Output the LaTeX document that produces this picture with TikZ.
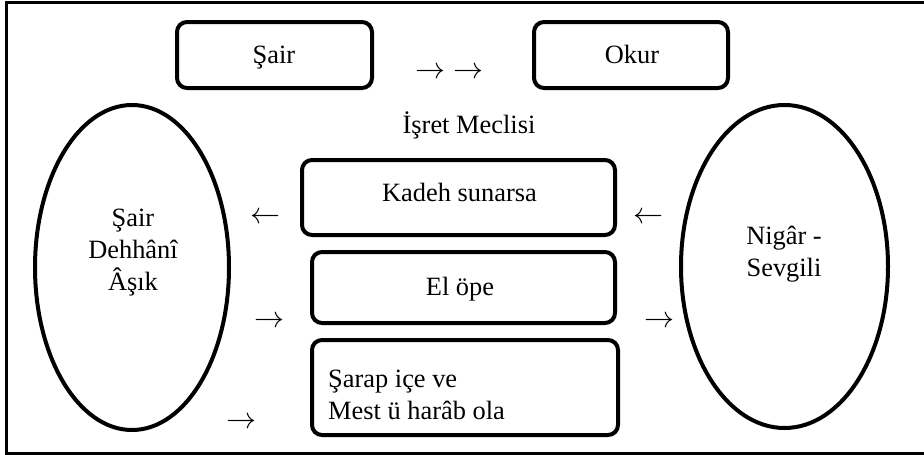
\RequirePackage{fix-cm}
\documentclass[tikz,border=0pt]{standalone}
\usepackage{fontspec}
\setmainfont{Liberation Serif}
\usetikzlibrary{shapes.geometric}

\begin{document}
\begin{tikzpicture}[x=1pt,y=-1pt,
        every node/.style={font=\fontsize{26.4}{32}\selectfont},
        kutu/.style={draw,rectangle,rounded corners=10pt,line width=4pt,inner sep=0pt},
        elips/.style={draw,ellipse,line width=4pt,inner sep=0pt},
        yazi/.style={inner sep=0pt,align=center},
        okyazi/.style={inner sep=0pt,font=\fontsize{30}{32}\selectfont}]
        \useasboundingbox (0,0) rectangle (924,455);
        \draw [line width=2.2pt] (6.5,2.5) rectangle (930,453.5);

        \begin{scope}
        \node [kutu,minimum width=195,minimum height=66] (sair) at (274.5,55) {};
        \node [yazi,anchor=base] (sairyazi) at (274,63) {Şair};
        \node [kutu,minimum width=194,minimum height=66] (okur) at (631,55) {};
        \node [yazi,anchor=base] (okuryazi) at (632,63) {Okur};
        \node [okyazi] (okust) at (449.5,73) {$\rightarrow$ $\rightarrow$};
        \node [yazi] (meclis) at (469,125) {İşret Meclisi};
        \end{scope}

        \node [elips,minimum width=194,minimum height=325] (asik) at (132,267.5) {};
        \node [yazi] (asikyazi) at (133,253) {Şair\\Dehhânî\\Âşık};
        \node [elips,minimum width=207,minimum height=323] (nigar) at (784.5,266.5) {};
        \node [yazi] (nigaryazi) at (784,254) {Nigâr -\\Sevgili};

        \node [kutu,minimum width=313,minimum height=75] (kadeh) at (458.5,197.5) {};
        \node [yazi,anchor=base] (kadehyazi) at (459.5,201) {Kadeh sunarsa};
        \node [kutu,minimum width=303,minimum height=71] (el) at (463.5,287.5) {};
        \node [yazi,anchor=base] (elyazi) at (460,295) {El öpe};
        \node [kutu,minimum width=306,minimum height=95] (sarap) at (465,387.5) {};
        \node [yazi,align=left,anchor=west] (sarapyazi) at (328,395) {Şarap içe ve\\Mest ü harâb ola};

        \foreach \n/\x/\y/\isaret in {1/265/218/\leftarrow, 2/648.5/218/\leftarrow, 3/269/322/\rightarrow, 4/659/322/\rightarrow, 5/241/423/\rightarrow}{
            \node [okyazi] (ok\n) at (\x,\y) {$\isaret$};
        }
    \end{tikzpicture}
\end{document}
